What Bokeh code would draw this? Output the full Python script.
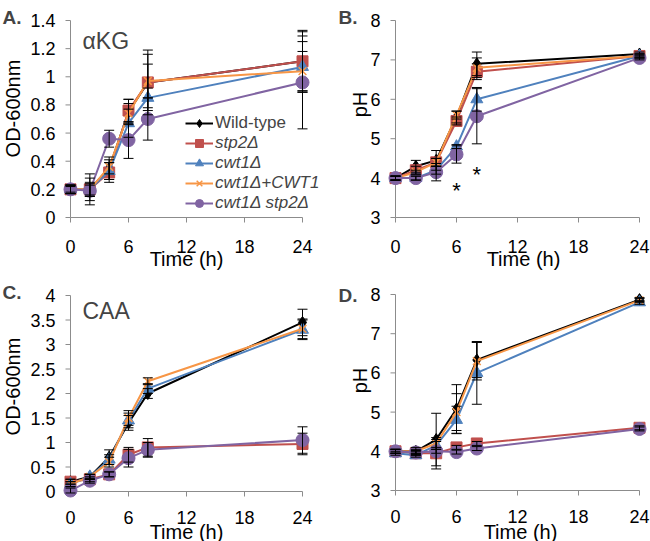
from bokeh.plotting import figure
from bokeh.models import (Range1d, Whisker, TeeHead, ColumnDataSource,
                          Legend, LegendItem, Label)
from bokeh.core.properties import value
from bokeh.layouts import column, row
from bokeh.embed import file_html
from bokeh.resources import INLINE
import math

FONT = "Liberation Sans"

time_h = [0, 2, 4, 6, 8, 24]
strains = ["Wild-type", "stp2Δ", "cwt1Δ", "cwt1Δ+CWT1", "cwt1Δ stp2Δ"]
colors = ["#000000", "#C0504D", "#4F81BD", "#F79646", "#8064A2"]
markers = ["diamond", "square", "triangle", "x", "circle"]
marker_sizes = [12, 11, 12, 11, 13]

# Panel A: alpha-KG, OD-600nm
akg_od_wt = [0.20, 0.20, 0.35, 0.75, 0.96, 1.11]
akg_od_stp2 = [0.20, 0.20, 0.32, 0.76, 0.96, 1.11]
akg_od_cwt1 = [0.20, 0.20, 0.33, 0.67, 0.85, 1.07]
akg_od_comp = [0.20, 0.20, 0.36, 0.74, 0.97, 1.04]
akg_od_dbl = [0.20, 0.19, 0.56, 0.55, 0.70, 0.96]
akg_od_err_wt = [0.03, 0.08, 0.08, 0.09, 0.23, 0.22]
akg_od_err_stp2 = [0.03, 0.11, 0.07, 0.08, 0.20, 0.21]
akg_od_err_cwt1 = [0.03, 0.05, 0.06, 0.10, 0.07, 0.18]
akg_od_err_comp = [0.02, 0.04, 0.05, 0.07, 0.12, 0.14]
akg_od_err_dbl = [0.03, 0.04, 0.06, 0.13, 0.15, 0.33]

# Panel B: alpha-KG, pH
akg_ph_wt = [4.00, 4.30, 4.45, 5.55, 6.90, 7.15]
akg_ph_stp2 = [4.00, 4.20, 4.40, 5.45, 6.70, 7.10]
akg_ph_cwt1 = [4.00, 4.00, 4.20, 4.80, 6.00, 7.10]
akg_ph_comp = [4.00, 4.15, 4.40, 5.60, 6.80, 7.10]
akg_ph_dbl = [4.00, 4.00, 4.15, 4.60, 5.57, 7.05]
akg_ph_err_wt = [0.05, 0.15, 0.25, 0.15, 0.30, 0.05]
akg_ph_err_stp2 = [0.05, 0.10, 0.10, 0.10, 0.20, 0.05]
akg_ph_err_cwt1 = [0.05, 0.05, 0.10, 0.05, 0.30, 0.05]
akg_ph_err_comp = [0.05, 0.05, 0.10, 0.10, 0.25, 0.05]
akg_ph_err_dbl = [0.05, 0.05, 0.22, 0.22, 0.70, 0.05]
star_x = [6, 8]
star_y = [3.68, 4.10]

# Panel C: CAA, OD-600nm
caa_od_wt = [0.20, 0.30, 0.70, 1.40, 2.00, 3.45]
caa_od_stp2 = [0.20, 0.25, 0.35, 0.75, 0.90, 0.97]
caa_od_cwt1 = [0.15, 0.30, 0.65, 1.45, 2.10, 3.30]
caa_od_comp = [0.15, 0.30, 0.60, 1.50, 2.25, 3.32]
caa_od_dbl = [0.02, 0.22, 0.35, 0.68, 0.85, 1.05]
caa_od_err_wt = [0.05, 0.05, 0.15, 0.15, 0.10, 0.27]
caa_od_err_stp2 = [0.05, 0.05, 0.05, 0.15, 0.18, 0.22]
caa_od_err_cwt1 = [0.05, 0.05, 0.10, 0.15, 0.10, 0.20]
caa_od_err_comp = [0.05, 0.05, 0.10, 0.15, 0.07, 0.20]
caa_od_err_dbl = [0.05, 0.05, 0.05, 0.18, 0.15, 0.27]

# Panel D: CAA, pH
caa_ph_wt = [4.00, 4.00, 4.30, 5.08, 6.33, 7.87]
caa_ph_stp2 = [4.00, 3.95, 3.95, 4.10, 4.20, 4.60]
caa_ph_cwt1 = [3.95, 3.90, 4.15, 4.80, 6.00, 7.80]
caa_ph_comp = [4.00, 4.00, 4.20, 5.00, 6.30, 7.85]
caa_ph_dbl = [4.00, 3.97, 4.00, 3.98, 4.07, 4.57]
caa_ph_err_wt = [0.05, 0.10, 0.67, 0.62, 0.45, 0.05]
caa_ph_err_stp2 = [0.05, 0.05, 0.40, 0.05, 0.05, 0.05]
caa_ph_err_cwt1 = [0.05, 0.05, 0.10, 0.35, 0.80, 0.05]
caa_ph_err_comp = [0.05, 0.05, 0.10, 0.47, 0.48, 0.05]
caa_ph_err_dbl = [0.05, 0.05, 0.05, 0.05, 0.05, 0.05]

x_ticks = [0, 6, 12, 18, 24]
x_tick_labels = ["0", "6", "12", "18", "24"]
od_ticks_a = [0, 0.2, 0.4, 0.6, 0.8, 1, 1.2, 1.4]
od_tick_labels_a = ["0", "0.2", "0.4", "0.6", "0.8", "1", "1.2", "1.4"]
od_ticks_c = [0, 0.5, 1, 1.5, 2, 2.5, 3, 3.5, 4]
od_tick_labels_c = ["0", "0.5", "1", "1.5", "2", "2.5", "3", "3.5", "4"]
ph_ticks = [3, 4, 5, 6, 7, 8]
ph_tick_labels = ["3", "4", "5", "6", "7", "8"]

AXIS_COLOR = "#8c8c8c"
TICK_PX = 5


def make_panel(series, errors, W, H, x0_px, x24_px, ylo_px, yhi_px, ybounds,
               yticks, ylabels, ylabel_text, ylabel_pos, letter, letter_pos,
               xlab_off, xtitle_pos):
    # pixel geometry -> data ranges (the frame fills the whole figure)
    px_x = (x24_px - x0_px) / (x_ticks[-1] - x_ticks[0])
    y0, y1 = ybounds
    px_y = (ylo_px - yhi_px) / (y1 - y0)
    xr = (-x0_px / px_x, (W - x0_px) / px_x)
    yr = (y0 - (H - ylo_px) / px_y, y0 + ylo_px / px_y)

    p = figure(width=W, height=H, min_border=0,
               x_range=Range1d(*xr), y_range=Range1d(*yr),
               output_backend="svg", toolbar_location=None, tools="")
    p.outline_line_color = None
    p.xaxis.visible = False
    p.yaxis.visible = False
    p.xgrid.visible = False
    p.ygrid.visible = False
    p.background_fill_color = "white"
    p.border_fill_color = "white"

    # axis rules and tick marks at the origin
    p.segment(x0=[0, 0], y0=[y0, y0], x1=[0, x_ticks[-1]], y1=[y1, y0],
              line_color=AXIS_COLOR, line_width=1)
    p.segment(x0=[-TICK_PX / px_x] * len(yticks), y0=yticks,
              x1=[0] * len(yticks), y1=yticks, line_color=AXIS_COLOR, line_width=1)
    p.segment(x0=x_ticks, y0=[y0] * len(x_ticks), x1=x_ticks,
              y1=[y0 - TICK_PX / px_y] * len(x_ticks), line_color=AXIS_COLOR,
              line_width=1)
    # tick labels
    p.text(x=x_ticks, y=[y0] * len(x_ticks), text=x_tick_labels,
           text_font=value(FONT), text_font_size=value("18px"), text_color="black",
           text_align="center", text_baseline="alphabetic", y_offset=xlab_off)
    p.text(x=[0] * len(yticks), y=yticks, text=ylabels,
           text_font=value(FONT), text_font_size=value("18px"), text_color="black",
           text_align="right", text_baseline="middle", x_offset=-15)
    # axis titles
    p.add_layout(Label(x=xtitle_pos[0], y=xtitle_pos[1], text="Time (h)",
                       x_units="screen", y_units="screen",
                       text_font=FONT, text_font_size="20px", text_color="black",
                       text_align="center", text_baseline="alphabetic"))
    p.add_layout(Label(x=ylabel_pos[0], y=ylabel_pos[1], text=ylabel_text,
                       x_units="screen", y_units="screen", angle=math.pi / 2,
                       text_font=FONT, text_font_size="20px", text_color="black",
                       text_align="center", text_baseline="middle"))
    p.add_layout(Label(x=letter_pos[0], y=letter_pos[1], text=letter,
                       x_units="screen", y_units="screen",
                       text_font=FONT, text_font_size="19px", text_font_style="bold",
                       text_baseline="alphabetic", text_align="left"))

    items = []
    for vals, col, mk, ms in zip(series, colors, markers, marker_sizes):
        r1 = p.line(time_h, vals, line_color=col, line_width=2)
        if mk == "x":
            r2 = p.scatter(time_h, vals, marker=mk, size=ms, line_color=col,
                           line_width=1.5)
        else:
            r2 = p.scatter(time_h, vals, marker=mk, size=ms, fill_color=col,
                           line_color=col)
        items.append([r1, r2])

    for vals, errs in zip(series, errors):
        src = ColumnDataSource(dict(
            x=time_h,
            upper=[v + e for v, e in zip(vals, errs)],
            lower=[v - e for v, e in zip(vals, errs)]))
        w = Whisker(base="x", upper="upper", lower="lower", source=src,
                    line_color="black", line_width=1, level="overlay",
                    upper_head=TeeHead(size=10, line_color="black", line_width=1),
                    lower_head=TeeHead(size=10, line_color="black", line_width=1))
        p.add_layout(w)
    return p, items


pa, items_a = make_panel(
    [akg_od_wt, akg_od_stp2, akg_od_cwt1, akg_od_comp, akg_od_dbl],
    [akg_od_err_wt, akg_od_err_stp2, akg_od_err_cwt1, akg_od_err_comp, akg_od_err_dbl],
    325, 270, 70, 302, 217, 20, (0, 1.4), od_ticks_a, od_tick_labels_a,
    "OD-600nm", (12, 162), "A.", (2, 253), 29, (186, 12))
pb, _ = make_panel(
    [akg_ph_wt, akg_ph_stp2, akg_ph_cwt1, akg_ph_comp, akg_ph_dbl],
    [akg_ph_err_wt, akg_ph_err_stp2, akg_ph_err_cwt1, akg_ph_err_comp, akg_ph_err_dbl],
    325, 270, 70, 314, 217, 20, (3, 8), ph_ticks, ph_tick_labels,
    "pH", (34, 166), "B.", (13, 253), 29, (198, 12))
pc, _ = make_panel(
    [caa_od_wt, caa_od_stp2, caa_od_cwt1, caa_od_comp, caa_od_dbl],
    [caa_od_err_wt, caa_od_err_stp2, caa_od_err_cwt1, caa_od_err_comp, caa_od_err_dbl],
    325, 271, 70, 302, 221, 25, (0, 4), od_ticks_c, od_tick_labels_c,
    "OD-600nm", (12, 155), "C.", (2, 249), 26, (186, 10))
pd_, _ = make_panel(
    [caa_ph_wt, caa_ph_stp2, caa_ph_cwt1, caa_ph_comp, caa_ph_dbl],
    [caa_ph_err_wt, caa_ph_err_stp2, caa_ph_err_cwt1, caa_ph_err_comp, caa_ph_err_dbl],
    325, 271, 70, 314, 220, 24, (3, 8), ph_ticks, ph_tick_labels,
    "pH", (34, 161), "D.", (13, 246), 26, (195, 10))

# panel titles
pa.add_layout(Label(x=82, y=230, text="αKG", x_units="screen", y_units="screen",
                    text_font=FONT, text_font_size="23px", text_baseline="alphabetic",
                    text_align="left"))
pc.add_layout(Label(x=82, y=231, text="CAA", x_units="screen", y_units="screen",
                    text_font=FONT, text_font_size="23px", text_baseline="alphabetic",
                    text_align="left"))
# significance asterisks
pb.text(x=star_x, y=star_y, text=["*"] * len(star_x), text_font=value(FONT),
        text_font_size=value("22px"), text_color="black", text_align="center",
        text_baseline="alphabetic")

# legend (Wild-type upright, mutants italic)
leg_kw = dict(glyph_width=28, glyph_height=20, label_height=20, label_standoff=2,
              padding=0, margin=0, spacing=0, border_line_color=None,
              background_fill_alpha=0, label_text_font=FONT,
              label_text_font_size="17px")
leg1 = Legend(items=[LegendItem(label=strains[0], renderers=items_a[0])],
              location=(185, 137), **leg_kw)
leg2 = Legend(items=[LegendItem(label=s, renderers=r)
                     for s, r in zip(strains[1:], items_a[1:])],
              location=(185, 57), label_text_font_style="italic", **leg_kw)
pa.add_layout(leg1)
pa.add_layout(leg2)

layout = column(row(pa, pb), row(pc, pd_))
open("out.html", "w").write(file_html(layout, INLINE))
